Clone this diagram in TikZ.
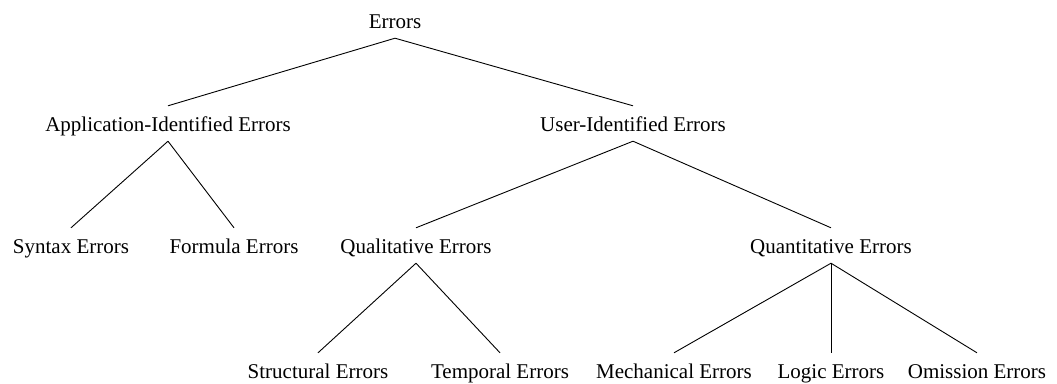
\documentclass[tikz,border=0pt]{standalone}
\usepackage{fontspec}
\setmainfont{Liberation Serif}
\begin{document}
\begin{tikzpicture}[x=1pt,y=-1pt,
  term/.style={anchor=base,font=\fontsize{21}{25}\selectfont,
    text height=15pt,text depth=0pt,inner xsep=2pt,inner ysep=10pt},
  edge/.style={line width=0.9pt}]
\useasboundingbox (0,0) rectangle (1057,383);
% level 0
\node[term] (err)  at (395,28)  {Errors};
% level 1
\node[term] (app)  at (168,131) {Application-Identified Errors};
\node[term] (user) at (633,131) {User-Identified Errors};
% level 2
\node[term] (syn)  at (71,253)  {Syntax Errors};
\node[term] (form) at (234,253) {Formula Errors};
\node[term] (qual) at (416,253) {Qualitative Errors};
\node[term] (quan) at (831,253) {Quantitative Errors};
% level 3
\node[term] (struc) at (318,378) {Structural Errors};
\node[term] (temp)  at (500,378) {Temporal Errors};
\node[term] (mech)  at (674,378) {Mechanical Errors};
\node[term] (logic) at (831,378) {Logic Errors};
\node[term] (omis)  at (977,378) {Omission Errors};
% connectors
\draw[edge] (err.south) -- (app.north);
\draw[edge] (err.south) -- (user.north);
\draw[edge] (app.south) -- (syn.north);
\draw[edge] (app.south) -- (form.north);
\draw[edge] (user.south) -- (qual.north);
\draw[edge] (user.south) -- (quan.north);
\draw[edge] (qual.south) -- (struc.north);
\draw[edge] (qual.south) -- (temp.north);
\draw[edge] (quan.south) -- (mech.north);
\draw[edge] (quan.south) -- (logic.north);
\draw[edge] (quan.south) -- (omis.north);
\end{tikzpicture}
\end{document}
